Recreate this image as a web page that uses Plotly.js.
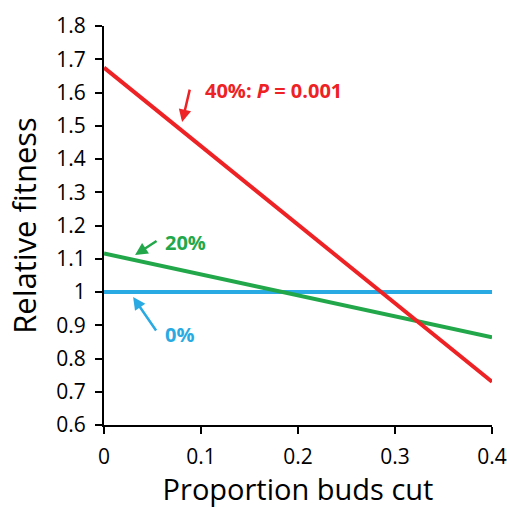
<!DOCTYPE html>
<html><head><meta charset="utf-8">
<script src="https://cdn.plot.ly/plotly-3.0.1.min.js"></script>
<style>html,body{margin:0;padding:0;background:#fff}</style>
</head><body><div id="chart" style="width:507px;height:508px"></div>
<script>
const xValues = [0, 0.4];
const cut0 = [1, 1];
const cut20 = [1.116, 0.864];
const cut40 = [1.675, 0.73];
const seriesNames = ['0%', '20%', '40%'];
const colors = ['#29aae2', '#22a84a', '#ee2124'];
const xTicks = [0, 0.1, 0.2, 0.3, 0.4];
const yTicks = [0.6, 0.7, 0.8, 0.9, 1, 1.1, 1.2, 1.3, 1.4, 1.5, 1.6, 1.7, 1.8];

const F = 'Open Sans, Lato, sans-serif';
const traces = [cut0, cut20, cut40].map((y, i) => ({
  x: xValues, y: y, mode: 'lines', name: seriesNames[i],
  line: {color: colors[i], width: 4}, hoverinfo: 'skip'
}));

const annotations = [
  {x: 0.102, y: 1.607, xref: 'x', yref: 'y', text: '<b>40%: <i>P</i> = 0.001</b>', showarrow: false,
   xanchor: 'left', yanchor: 'middle', font: {family: F, size: 20, color: colors[2]}},
  {x: 0.0805, y: 1.511, xref: 'x', yref: 'y', text: '', showarrow: true, ax: 8, ay: -34,
   arrowcolor: colors[2], arrowwidth: 2.5, arrowhead: 2, arrowsize: 1},
  {x: 0.061, y: 1.15, xref: 'x', yref: 'y', text: '<b>20%</b>', showarrow: false,
   xanchor: 'left', yanchor: 'middle', font: {family: F, size: 20, color: colors[1]}},
  {x: 0.032, y: 1.111, xref: 'x', yref: 'y', text: '', showarrow: true, ax: 23, ay: -15,
   arrowcolor: colors[1], arrowwidth: 2.5, arrowhead: 2, arrowsize: 1},
  {x: 0.061, y: 0.871, xref: 'x', yref: 'y', text: '<b>0%</b>', showarrow: false,
   xanchor: 'left', yanchor: 'middle', font: {family: F, size: 20, color: colors[0]}},
  {x: 0.030, y: 0.985, xref: 'x', yref: 'y', text: '', showarrow: true, ax: 24, ay: 35,
   arrowcolor: colors[0], arrowwidth: 2.5, arrowhead: 2, arrowsize: 1}
];

const layout = {
  width: 507, height: 508,
  margin: {l: 104, r: 15, t: 26, b: 83},
  paper_bgcolor: '#fff', plot_bgcolor: '#fff',
  showlegend: false,
  font: {family: F, color: '#000'},
  xaxis: {
    range: [0, 0.4], tickvals: xTicks, ticktext: xTicks.map(String),
    showgrid: false, zeroline: false, showline: true, linecolor: '#000', linewidth: 2,
    ticks: 'outside', ticklen: 7, tickwidth: 2, tickcolor: '#000', ticklabelstandoff: 5,
    tickfont: {family: F, size: 21, color: '#000'},
    title: {text: 'Proportion buds cut', font: {family: F, size: 29, color: '#000'}, standoff: 16}
  },
  yaxis: {
    range: [0.6, 1.8], tickvals: yTicks, ticktext: yTicks.map(v => String(v)),
    showgrid: false, zeroline: false, showline: true, linecolor: '#000', linewidth: 2,
    ticks: 'outside', ticklen: 7, tickwidth: 2, tickcolor: '#000', ticklabelstandoff: 5,
    tickfont: {family: F, size: 21, color: '#000'},
    title: {text: 'Relative fitness', font: {family: F, size: 31, color: '#000'}, standoff: 10}
  },
  annotations: annotations
};
Plotly.newPlot('chart', traces, layout, {displayModeBar: false, staticPlot: true});
</script></body></html>
